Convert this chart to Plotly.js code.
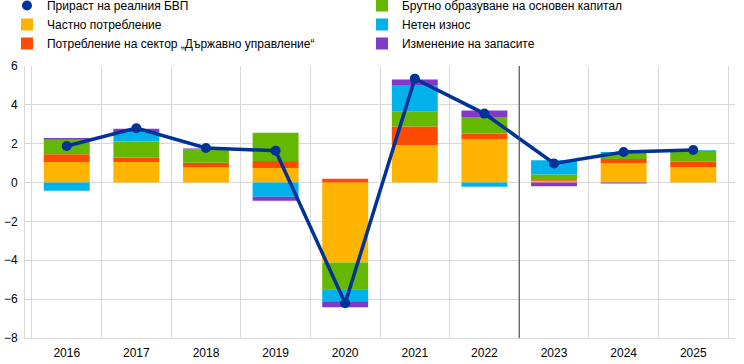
<!DOCTYPE html>
<html>
<head>
<meta charset="utf-8">
<script src="https://cdn.plot.ly/plotly-3.0.1.min.js"></script>
<style>html,body{margin:0;padding:0;background:#fff;}#chart{width:744px;height:364px;}</style>
</head>
<body>
<div id="chart"></div>
<script>
const years = ["2016","2017","2018","2019","2020","2021","2022","2023","2024","2025"];
const gdp = [1.88, 2.80, 1.78, 1.64, -6.21, 5.35, 3.55, 0.98, 1.57, 1.68];
const privateCons = [1.06, 1.06, 0.80, 0.75, -4.12, 1.94, 2.24, 0.10, 0.99, 0.80];
const govCons = [0.40, 0.22, 0.22, 0.36, 0.20, 0.94, 0.29, 0.03, 0.22, 0.27];
const gfcf = [0.74, 0.84, 0.69, 1.46, -1.37, 0.79, 0.85, 0.29, 0.26, 0.50];
const netExports = [-0.42, 0.48, 0.00, -0.73, -0.62, 1.35, -0.21, 0.73, 0.10, 0.10];
const inventories = [0.10, 0.17, 0.05, -0.21, -0.31, 0.29, 0.33, -0.19, -0.05, 0.00];

const names = {
  gdp: "Прираст на реалния БВП",
  privateCons: "Частно потребление",
  govCons: "Потребление на сектор „Държавно управление“",
  gfcf: "Брутно образуване на основен капитал",
  netExports: "Нетен износ",
  inventories: "Изменение на запасите"
};

function bar(y, name, color, rank) {
  return {type: "bar", x: years, y: y, name: name, legendrank: rank,
    marker: {color: color, line: {width: 0}}, hoverinfo: "y+name"};
}

const traces = [
  bar(privateCons, names.privateCons, "#FFB400", 3),
  bar(govCons, names.govCons, "#FF4B00", 5),
  bar(gfcf, names.gfcf, "#65B800", 2),
  bar(netExports, names.netExports, "#00B1EA", 4),
  bar(inventories, names.inventories, "#8139C6", 6),
  {type: "scatter", mode: "lines", x: years, y: gdp, name: names.gdp, showlegend: false,
    line: {color: "#003299", width: 3.5}},
  {type: "scatter", mode: "markers", x: years, y: gdp, name: names.gdp, legendrank: 1,
    marker: {color: "#003299", size: 10}}
];

const layout = {
  width: 744, height: 364,
  margin: {l: 25, r: 9, t: 66, b: 26},
  paper_bgcolor: "#fff", plot_bgcolor: "#fff",
  font: {family: "Arial, 'Liberation Sans', sans-serif", size: 12, color: "#000"},
  barmode: "relative",
  bargap: 0.34,
  showlegend: true,
  legend: {orientation: "h", xref: "container", x: 0.0094, xanchor: "left",
    yref: "container", y: 0.8407, yanchor: "bottom",
    entrywidth: 310, traceorder: "normal", font: {size: 12},
    itemwidth: 30, tracegroupgap: 0, bgcolor: "rgba(0,0,0,0)"},
  xaxis: {type: "category", tickson: "boundaries", showgrid: true, gridcolor: "#d9d9d9",
    ticks: "", showline: true, linecolor: "#d9d9d9", linewidth: 1, ticklabelstandoff: 4, fixedrange: true},
  yaxis: {range: [-8, 6], dtick: 2, showgrid: true, gridcolor: "#d9d9d9", zeroline: false,
    showline: true, linecolor: "#d9d9d9", ticks: "", ticklabelstandoff: 4, fixedrange: true},
  shapes: [{type: "line", xref: "x", yref: "paper", x0: 6.5, x1: 6.5, y0: 0, y1: 1,
    line: {color: "#555555", width: 1.2}}]
};

Plotly.newPlot("chart", traces, layout, {displayModeBar: false, staticPlot: true});
</script>
</body>
</html>
